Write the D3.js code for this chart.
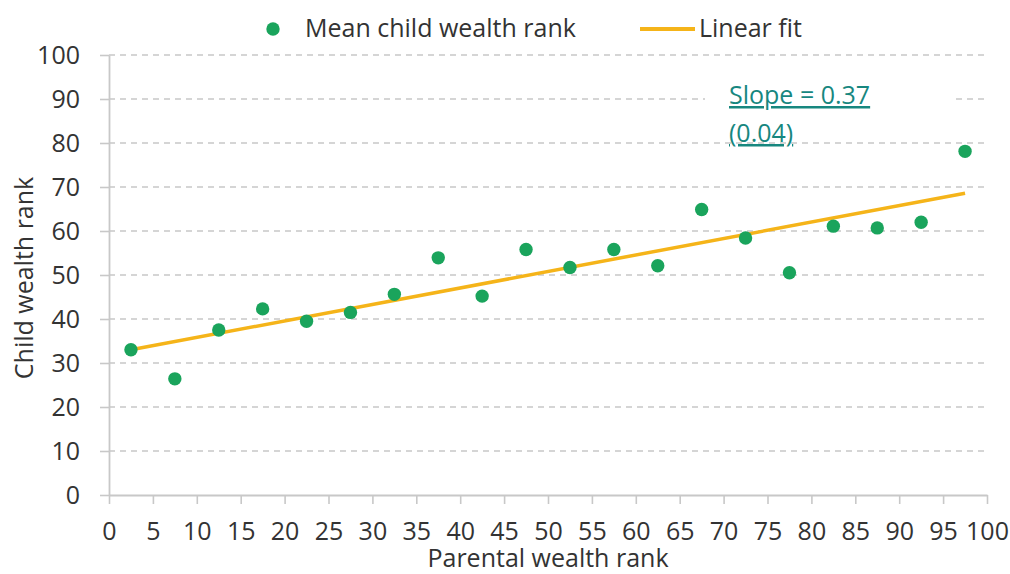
<!DOCTYPE html>
<html><head><meta charset="utf-8">
<script src="https://cdn.jsdelivr.net/npm/d3@7"></script>
<style>
html,body{margin:0;padding:0;background:#fff;}
svg{display:block;font-family:"Open Sans",sans-serif;}
</style></head>
<body><svg id="chart" width="1010" height="574"></svg>
<script>
// Data
const parentRank = [2.5,7.5,12.5,17.5,22.5,27.5,32.5,37.5,42.5,47.5,52.5,57.5,62.5,67.5,72.5,77.5,82.5,87.5,92.5,97.5];
const childRank  = [33.0,26.4,37.5,42.3,39.5,41.5,45.6,53.9,45.2,55.8,51.7,55.8,52.1,64.9,58.4,50.5,61.1,60.7,62.0,78.1];
const fitX = [2.5, 97.5];
const fitY = [33.0, 68.6];
const xTicks = d3.range(0, 101, 5);
const yTicks = d3.range(0, 101, 10);
const seriesNames = ["Mean child wealth rank", "Linear fit"];
const annotation = ["Slope = 0.37", "(0.04)"];

const svg = d3.select("#chart");
const x = d3.scaleLinear().domain([0,100]).range([109,987]);
const y = d3.scaleLinear().domain([0,100]).range([495,55]);

const axisCol = "#c8c8c8", textCol = "#333333";
const green = "#1aa45c", yellow = "#f5b419", teal = "#17877f";
const fs = "25px";

// gridlines
svg.append("g").selectAll("line").data(yTicks.filter(d=>d>0)).join("line")
  .attr("x1", x(0)).attr("x2", 986).attr("y1", d=>y(d)).attr("y2", d=>y(d))
  .attr("stroke", axisCol).attr("stroke-width", 1.6).attr("stroke-dasharray", "6,5");

// annotation background box
svg.append("rect").attr("x", 705).attr("y", 78).attr("width", 251).attr("height", 48).attr("fill", "#fff");

// y axis
const gy = svg.append("g").attr("transform", `translate(${x(0)},0)`)
  .call(d3.axisLeft(y).tickValues(yTicks).tickSize(9).tickSizeOuter(0).tickPadding(20));
gy.select(".domain").attr("stroke", axisCol).attr("stroke-width", 1.8);
gy.selectAll(".tick line").attr("stroke", axisCol).attr("stroke-width", 1.6);
gy.selectAll(".tick text").attr("fill", textCol).style("font-size", fs).style("font-family", "'Open Sans',sans-serif");

// x axis
const gx = svg.append("g").attr("transform", `translate(0,${y(0)})`)
  .call(d3.axisBottom(x).tickValues(xTicks).tickSize(9).tickSizeOuter(0).tickPadding(18));
gx.select(".domain").attr("stroke", axisCol).attr("stroke-width", 1.8);
gx.selectAll(".tick line").attr("stroke", axisCol).attr("stroke-width", 1.6);
gx.selectAll(".tick text").attr("fill", textCol).style("font-size", fs).style("font-family", "'Open Sans',sans-serif");

// fit line
svg.append("path").datum(fitX.map((d,i)=>[d, fitY[i]]))
  .attr("d", d3.line().x(d=>x(d[0])).y(d=>y(d[1])))
  .attr("fill","none").attr("stroke", yellow).attr("stroke-width", 3.5);

// points
svg.append("g").selectAll("circle").data(parentRank).join("circle")
  .attr("cx", d=>x(d)).attr("cy", (d,i)=>y(childRank[i])).attr("r", 6.7).attr("fill", green);

// annotation
annotation.forEach((t,i)=>{
  svg.append("text").attr("x", 729).attr("y", 104 + i*38).text(t)
    .attr("fill", teal).style("font-size",fs).style("text-decoration","underline");
});

// axis titles
svg.append("text").attr("x", 548).attr("y", 567).attr("text-anchor","middle")
  .attr("fill", textCol).style("font-size",fs).text("Parental wealth rank");
svg.append("text").attr("transform","translate(33,278) rotate(-90)").attr("text-anchor","middle")
  .attr("fill", textCol).style("font-size",fs).text("Child wealth rank");

// legend
svg.append("circle").attr("cx", 273).attr("cy", 29).attr("r", 6.7).attr("fill", green);
svg.append("text").attr("x", 305).attr("y", 37).attr("fill", textCol).style("font-size",fs).text(seriesNames[0]);
svg.append("line").attr("x1", 640).attr("x2", 695).attr("y1", 29).attr("y2", 29).attr("stroke", yellow).attr("stroke-width", 4);
svg.append("text").attr("x", 699).attr("y", 37).attr("fill", textCol).style("font-size",fs).text(seriesNames[1]);
</script></body></html>
